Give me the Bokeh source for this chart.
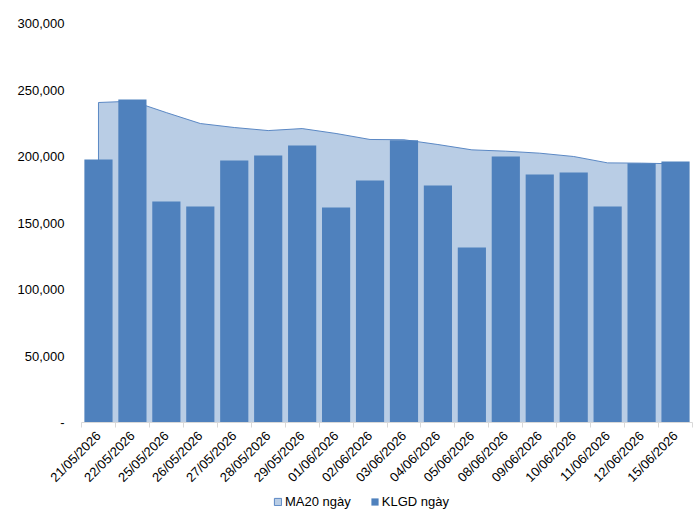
import math
from bokeh.plotting import figure
from bokeh.layouts import column
from bokeh.models import (Range1d, FixedTicker, CustomJSTickFormatter,
                          Legend, LegendItem, ColumnDataSource)
from bokeh.embed import file_html
from bokeh.resources import INLINE

dates = ["21/05/2026", "22/05/2026", "25/05/2026", "26/05/2026", "27/05/2026",
         "28/05/2026", "29/05/2026", "01/06/2026", "02/06/2026", "03/06/2026",
         "04/06/2026", "05/06/2026", "08/06/2026", "09/06/2026", "10/06/2026",
         "11/06/2026", "12/06/2026", "15/06/2026"]
klgd = [197700, 242900, 166200, 162400, 197000, 200800, 208300, 161700, 182000,
        212300, 178200, 131600, 200000, 186500, 188000, 162400, 195000, 196300]
ma20 = [240600, 241600, 233000, 224800, 221800, 219500, 221000, 217300, 212800,
        212600, 209000, 205000, 204000, 202500, 200000, 195200, 195000, 194500]
y_ticks = [0, 50000, 100000, 150000, 200000, 250000, 300000]

n = len(dates)
xs = [i + 0.5 for i in range(n)]

FONT = "Liberation Sans"
BAR = "#4F81BD"
AREA = "#B9CDE5"
AREA_LINE = "#5B88C4"
TOP_H = 494
LEG_H = 524 - TOP_H

p = figure(width=700, height=TOP_H, output_backend="svg", toolbar_location=None,
           x_range=Range1d(0, n), y_range=Range1d(0, 300000),
           min_border_left=81, min_border_right=8, min_border_top=23,
           min_border_bottom=TOP_H - 422)
p.outline_line_color = None
p.xgrid.visible = False
p.ygrid.visible = False
p.background_fill_color = "white"
p.border_fill_color = "white"

area_x = [xs[0]] + xs + [xs[-1]]
area_y = [0] + ma20 + [0]
p.patch(x=area_x, y=area_y, fill_color=AREA, line_color=AREA_LINE, line_width=1)
src = ColumnDataSource(dict(x=xs, top=klgd))
p.vbar(x="x", top="top", width=0.83, source=src, fill_color=BAR, line_color=None)

# x axis
p.xaxis.ticker = FixedTicker(ticks=xs, minor_ticks=list(range(n + 1)))
p.xaxis.formatter = CustomJSTickFormatter(args=dict(labels=dates),
                                          code="return labels[Math.floor(tick)] || '';")
p.xaxis.axis_line_color = "#D9D9D9"
p.xaxis.major_tick_line_color = None
p.xaxis.minor_tick_line_color = "#D9D9D9"
p.xaxis.minor_tick_in = 0
p.xaxis.minor_tick_out = 5
p.xaxis.major_tick_in = 0
p.xaxis.major_tick_out = 0
p.xaxis.major_label_orientation = math.pi / 4
p.xaxis.major_label_standoff = 6
p.xaxis.major_label_text_font = FONT
p.xaxis.major_label_text_font_size = "13px"
p.xaxis.major_label_text_color = "#000000"

# y axis
p.yaxis.ticker = FixedTicker(ticks=y_ticks, minor_ticks=[])
p.yaxis.formatter = CustomJSTickFormatter(
    code="return tick == 0 ? '-' : Math.round(tick).toString().replace(/\\B(?=(\\d{3})+(?!\\d))/g, ',');")
p.yaxis.axis_line_color = None
p.yaxis.major_tick_line_color = None
p.yaxis.minor_tick_line_color = None
p.yaxis.major_tick_in = 0
p.yaxis.major_tick_out = 0
p.yaxis.major_label_standoff = 17
p.yaxis.major_label_text_font = FONT
p.yaxis.major_label_text_font_size = "13px"
p.yaxis.major_label_text_color = "#000000"

# legend strip below the chart (same series, drawn off-range so only the legend shows)
q = figure(width=700, height=LEG_H, output_backend="svg", toolbar_location=None,
           x_range=Range1d(0, n), y_range=Range1d(1e9, 2e9),
           min_border_left=0, min_border_right=0, min_border_top=0,
           min_border_bottom=0)
q.axis.visible = False
q.grid.visible = False
q.outline_line_color = None
q.background_fill_color = "white"
q.border_fill_color = "white"
area_l = q.patch(x=area_x, y=area_y, fill_color=AREA, line_color=AREA_LINE, line_width=1)
bars_l = q.vbar(x=xs, top=klgd, width=0.83, fill_color=BAR, line_color=None)

legend = Legend(items=[LegendItem(label="MA20 ngày", renderers=[area_l]),
                       LegendItem(label="KLGD ngày", renderers=[bars_l])],
                orientation="horizontal", location=(192, LEG_H - 15),
                glyph_width=9, glyph_height=9, label_standoff=3, spacing=19,
                label_height=15,
                padding=0, margin=0, border_line_color=None,
                background_fill_alpha=0,
                label_text_font=FONT, label_text_font_size="13px",
                label_text_color="#000000")
q.add_layout(legend)

layout = column(p, q, spacing=0)
open("out.html", "w").write(file_html(layout, INLINE))
